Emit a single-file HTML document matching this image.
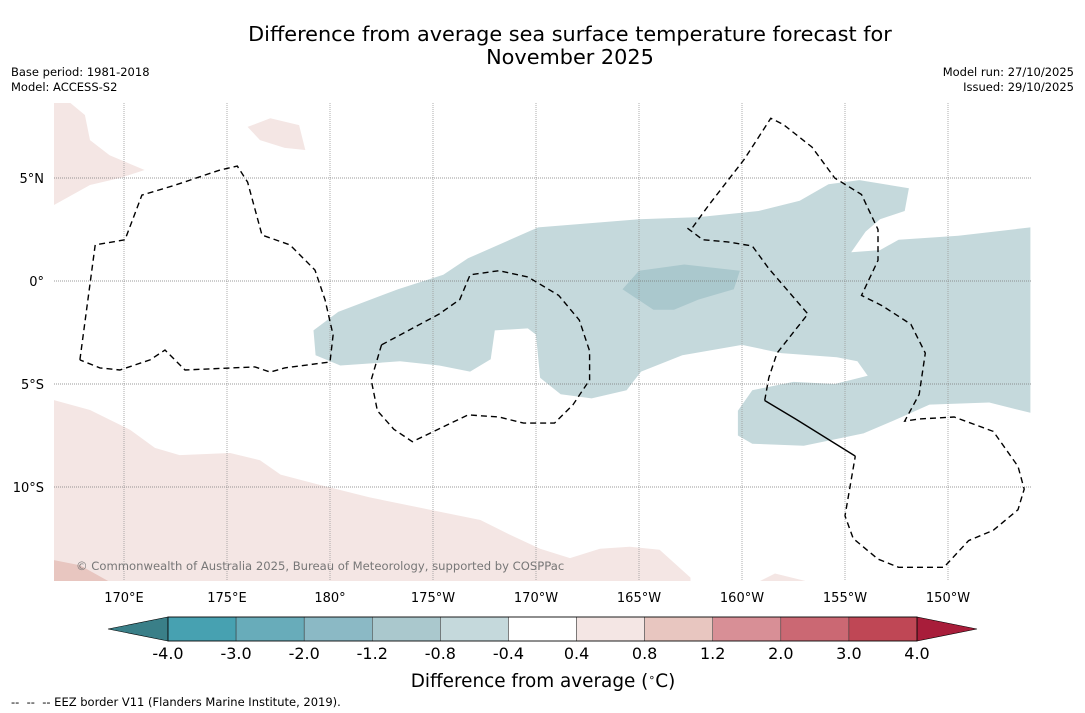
<!DOCTYPE html>
<html><head><meta charset="utf-8">
<style>
html,body{margin:0;padding:0;background:#fff;}
body{width:1085px;height:713px;position:relative;overflow:hidden;font-family:"DejaVu Sans","Liberation Sans",sans-serif;}
svg{position:absolute;left:0;top:0;font-family:"DejaVu Sans","Liberation Sans",sans-serif;}
</style></head>
<body>
<svg id="chart" width="1085" height="713" xmlns="http://www.w3.org/2000/svg">
<text x="570" y="41" text-anchor="middle" font-size="20.8" fill="#000">Difference from average sea surface temperature forecast for</text>
<text x="570" y="64" text-anchor="middle" font-size="20.8" fill="#000">November 2025</text>
<text x="11" y="76" font-size="11.5">Base period: 1981-2018</text>
<text x="11" y="91" font-size="11.5">Model: ACCESS-S2</text>
<text x="1074" y="76" font-size="11.5" text-anchor="end">Model run: 27/10/2025</text>
<text x="1074" y="91" font-size="11.5" text-anchor="end">Issued: 29/10/2025</text>
<defs><clipPath id="mapclip"><rect x="54" y="103" width="977" height="478"/></clipPath></defs>
<g id="map" clip-path="url(#mapclip)"></g>
<g id="grid"></g>
<g id="eez" clip-path="url(#mapclip)"></g>
<text x="76" y="570" font-size="11.6" fill="#777">© Commonwealth of Australia 2025, Bureau of Meteorology, supported by COSPPac</text>
<g id="xlabels"></g>
<g id="ylabels"></g>
<g id="cbar"></g>
<text x="543" y="687" text-anchor="middle" font-size="18.4">Difference from average (<tspan baseline-shift="super" font-size="11">∘</tspan>C)</text>
<text x="11" y="706" font-size="11.5">-- &nbsp;-- &nbsp;-- EEZ border V11 (Flanders Marine Institute, 2019).</text>
</svg>
<script>
const lonTicks=[170,175,180,185,190,195,200,205,210];
const lonLabels=["170°E","175°E","180°","175°W","170°W","165°W","160°W","155°W","150°W"];
const latTicks=[5,0,-5,-10];
const latLabels=["5°N","0°","5°S","10°S"];
const cbLevels=["-4.0","-3.0","-2.0","-1.2","-0.8","-0.4","0.4","0.8","1.2","2.0","3.0","4.0"];
const cbColors=["#47a1b1","#68acba","#8bb9c5","#aac8cd","#c5d9dc","#ffffff","#f4e6e4","#e8c6c0","#d88f96","#cb6873","#bf4755"];
const cbLow="#3a7f88", cbHigh="#a81d3a";
const blueBand=[[179.2,-2.4],[180.4,-1.5],[183.3,-0.4],[185.5,0.3],[186.7,1.1],[190.1,2.6],[195,3],[197.9,3.1],[200.8,3.4],[202.8,3.9],[204.2,4.7],[205.7,4.9],[208.1,4.5],[207.9,3.4],[206.7,3],[206,2.4],[205.3,1.4],[206.7,1.5],[207.6,2],[210.5,2.2],[214,2.6],[214,-6.4],[212,-5.9],[209.1,-6],[207.3,-6.8],[205.9,-7.4],[203,-8],[200.5,-7.9],[199.8,-7.5],[199.8,-6.3],[200.5,-5.3],[202.5,-4.9],[204.5,-5],[206.1,-4.6],[205.6,-3.9],[204.6,-3.7],[201.9,-3.5],[200,-3.1],[197.1,-3.6],[195.1,-4.4],[194.4,-5.3],[192.7,-5.7],[191.2,-5.5],[190.2,-4.7],[190,-2.6],[189.6,-2.3],[188,-2.4],[187.8,-3.8],[186.8,-4.4],[185.3,-4.1],[183.4,-3.9],[180.5,-4.1],[179.3,-3.6]];
const blueCore=[[194.2,-0.4],[195,0.5],[197.2,0.8],[199.9,0.5],[199.6,-0.4],[197.9,-0.9],[196.7,-1.4],[195.7,-1.4]];
const pinkSouth=[[166.6,-5.78],[168.35,-6.26],[170.3,-7.23],[171.5,-8.1],[172.7,-8.45],[175.15,-8.35],[176.6,-8.7],[177.6,-9.4],[179.5,-9.9],[181.9,-10.5],[184.85,-11.1],[187.3,-11.6],[188.7,-12.3],[190.2,-13],[191.65,-13.45],[193.1,-13],[194.55,-12.9],[196,-13.05],[197.5,-14.4],[197.5,-15.5],[166,-15.5]];
const pinkSouthDark=[[166.6,-13.55],[167.86,-13.8],[169.3,-14.6],[169.5,-15.2],[166,-15.2]];
const pinkNW=[[166,8.64],[167.4,8.64],[168.1,8.06],[168.35,6.84],[169.3,6.1],[171,5.39],[169.8,5],[168.35,4.66],[166.6,3.69],[166,3.69]];
const pinkNorth=[[176,7.48],[177.1,7.9],[178.5,7.57],[178.8,6.36],[177.8,6.46],[176.6,6.84]];
const pinkSE=[[200.4,-14.8],[201.6,-14.2],[203.06,-14.56],[203.1,-14.8]];
const eezLines=[
 [[167.86,-3.83],[168.6,1.75],[170.05,2],[170.87,4.17],[172.5,4.66],[174.66,5.39],[175.5,5.58],[176,4.8],[176.7,2.23],[178.06,1.75],[179.27,0.53],[179.76,-0.92],[180.15,-2.62],[180,-3.93],[177.8,-4.22],[177.1,-4.42],[176.36,-4.17],[172.96,-4.32],[171.99,-3.35],[171.26,-3.83],[169.8,-4.32],[168.83,-4.22],[167.86,-3.83]],
 [[182.5,-3.1],[185.3,-1.6],[186.3,-0.9],[186.8,0.3],[188.2,0.5],[189.6,0.2],[191.1,-0.7],[192.1,-1.9],[192.6,-3.4],[192.6,-4.8],[191.8,-6],[190.9,-6.9],[189.4,-6.9],[188.2,-6.6],[186.7,-6.5],[184,-7.8],[183.1,-7.2],[182.3,-6.3],[182,-4.8],[182.5,-3.1]],
 [[197.6,2.6],[198.4,3.7],[200.1,5.9],[201.4,7.9],[202,7.6],[203.4,6.5],[204.5,5],[205.8,4.2],[206.6,2.5],[206.6,1],[205.8,-0.7],[206.8,-1.2],[208.2,-2.1],[208.9,-3.5],[208.6,-5.5],[207.9,-6.8],[208.6,-6.7],[210.3,-6.6],[212.2,-7.3],[213.4,-9],[213.7,-10.1],[213.4,-11.1],[212.2,-12.1],[211,-12.6],[209.8,-13.9],[207.6,-13.9],[206.6,-13.5],[205.4,-12.5],[205,-11.4],[205.5,-8.5]],
 [[201.1,-5.8],[202.6,-6.7],[205.5,-8.5]],
 [[201.1,-5.8],[201.3,-4.7],[201.7,-3.5],[203.2,-1.6],[201.3,0.6],[200.5,1.7],[199.3,1.9],[198.1,2],[197.3,2.6]]
];
const X=lon=>124+(lon-170)*20.6;
const Y=lat=>281-lat*20.6;
const NS="http://www.w3.org/2000/svg";
function mk(tag,attrs,parent){const e=document.createElementNS(NS,tag);for(const k in attrs)e.setAttribute(k,attrs[k]);parent.appendChild(e);return e;}
const pts=a=>a.map(p=>X(p[0]).toFixed(1)+","+Y(p[1]).toFixed(1)).join(" ");
const map=document.getElementById('map');
[[pinkSouth,"#f4e6e4","pink-anomaly-south"],[pinkSouthDark,"#e8c6c0","pink-anomaly-south-strong"],[pinkNW,"#f4e6e4","pink-anomaly-northwest"],[pinkNorth,"#f4e6e4","pink-anomaly-north"],[pinkSE,"#f4e6e4","pink-anomaly-southeast"],[blueBand,"#c5d9dc","cool-anomaly-band"],[blueCore,"#aac8cd","cool-anomaly-core"]].forEach(r=>{
 const p=mk('polygon',{points:pts(r[0]),fill:r[1]},map);
 
 
});
const grid=document.getElementById('grid');
lonTicks.forEach((lon,i)=>{
 const l=mk('line',{x1:X(lon),x2:X(lon),y1:103,y2:581,stroke:"#999","stroke-width":0.8,"stroke-dasharray":"1,1"},grid);
 
 
 const t=mk('text',{x:X(lon),y:602,"text-anchor":"middle","font-size":13},document.getElementById('xlabels'));
 t.textContent=lonLabels[i];
 
 
});
latTicks.forEach((lat,i)=>{
 const l=mk('line',{x1:54,x2:1031,y1:Y(lat),y2:Y(lat),stroke:"#777","stroke-width":0.8,"stroke-dasharray":"1,1"},grid);
 
 
 const t=mk('text',{x:44,y:Y(lat)+5,"text-anchor":"end","font-size":13},document.getElementById('ylabels'));
 t.textContent=latLabels[i];
 
 
});
const eez=document.getElementById('eez');
eezLines.forEach((ln,i)=>{
 const attrs={points:pts(ln),fill:"none",stroke:"#000","stroke-width":1.4};
 if(i!==3)attrs["stroke-dasharray"]="6,4";
 const p=mk('polyline',attrs,eez);
 
 
});
const cb=document.getElementById('cbar');
const cx0=168,cx1=917,cy=617,ch=24,n=cbColors.length,w=(cx1-cx0)/n;
const lt=mk('polygon',{points:`${cx0},${cy} ${cx0},${cy+ch} 108,${cy+ch/2}`,fill:cbLow,stroke:"#000","stroke-width":0.6},cb);


const rt=mk('polygon',{points:`${cx1},${cy} ${cx1},${cy+ch} 977,${cy+ch/2}`,fill:cbHigh,stroke:"#000","stroke-width":0.6},cb);


cbColors.forEach((c,i)=>{
 const r=mk('rect',{x:cx0+i*w,y:cy,width:w,height:ch,fill:c,stroke:"#333","stroke-width":0.5},cb);
 
 
});
mk('rect',{x:cx0,y:cy,width:cx1-cx0,height:ch,fill:"none",stroke:"#000","stroke-width":0.8},cb);
cbLevels.forEach((s,i)=>{
 const t=mk('text',{x:cx0+i*w,y:cy+ch+18,"text-anchor":"middle","font-size":16},cb);
 t.textContent=s;
 
 
});
</script>
</body></html>
